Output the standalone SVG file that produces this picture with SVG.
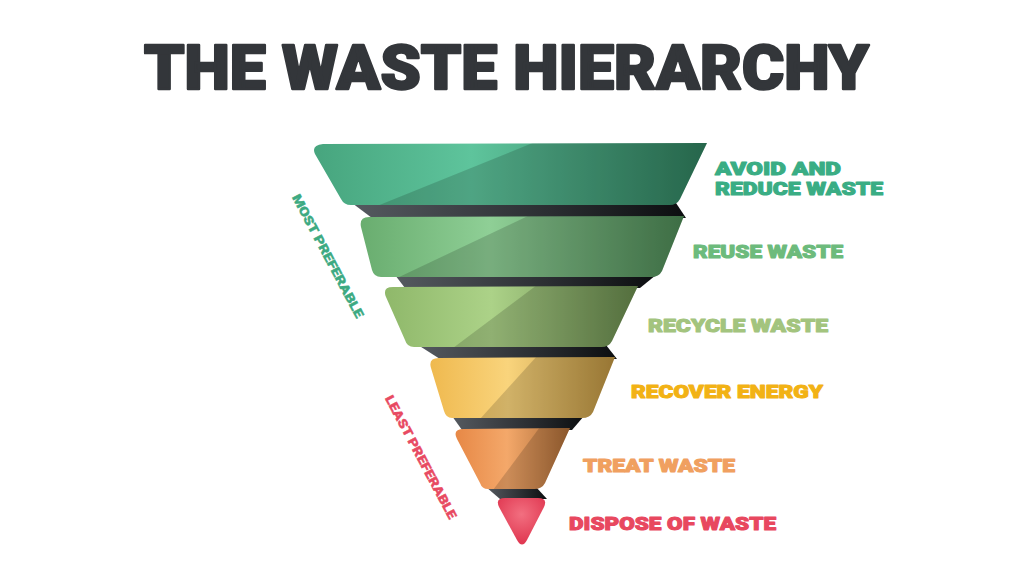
<svg xmlns="http://www.w3.org/2000/svg" width="1024" height="576" viewBox="0 0 1024 576">
<style>
.title{font-family:Roboto,"Liberation Sans",sans-serif;font-weight:900;font-size:62px;fill:#33363a;stroke:#33363a;stroke-width:2.4;stroke-linejoin:round}
.lab{font-family:Roboto,"Liberation Sans",sans-serif;font-weight:900;font-size:18px;stroke-width:1;stroke-linejoin:round}
.side{font-family:Roboto,"Liberation Sans",sans-serif;font-weight:900;font-size:12.5px;stroke-width:0.4}
.band{fill:url(#gBand)}
.shade{fill:#000;opacity:0.16}
</style>
<defs>
<linearGradient id="gBand" x1="0" y1="0" x2="1" y2="0">
<stop offset="0" stop-color="#555a60"/><stop offset="0.6" stop-color="#2a2d31"/><stop offset="1" stop-color="#0c0e10"/>
</linearGradient>
<linearGradient id="g1" x1="0" y1="0" x2="1" y2="0">
<stop offset="0" stop-color="#47a57e"/><stop offset="0.4" stop-color="#5ec49c"/><stop offset="1" stop-color="#2e7a5a"/>
</linearGradient>
<linearGradient id="g2" x1="0" y1="0" x2="1" y2="0">
<stop offset="0" stop-color="#69ad6f"/><stop offset="0.4" stop-color="#8fcf96"/><stop offset="1" stop-color="#4a8352"/>
</linearGradient>
<linearGradient id="g3" x1="0" y1="0" x2="1" y2="0">
<stop offset="0" stop-color="#8fb86a"/><stop offset="0.42" stop-color="#acd288"/><stop offset="1" stop-color="#64844a"/>
</linearGradient>
<linearGradient id="g4" x1="0" y1="0" x2="1" y2="0">
<stop offset="0" stop-color="#efb94f"/><stop offset="0.42" stop-color="#f9d47c"/><stop offset="1" stop-color="#b58d3e"/>
</linearGradient>
<linearGradient id="g5" x1="0" y1="0" x2="1" y2="0">
<stop offset="0" stop-color="#e78846"/><stop offset="0.45" stop-color="#f4a86a"/><stop offset="1" stop-color="#a66834"/>
</linearGradient>
<radialGradient id="g6" cx="0.5" cy="0.35" r="0.6">
<stop offset="0" stop-color="#f26f80"/><stop offset="1" stop-color="#e13a53"/>
</radialGradient>
<path id="p1" d="M323,144 L707,143 L680,199 Q677,205 669,205 L351,205 Q344,205 341,199 L315,154 Q311,145 323,144 Z"/>
<path id="p2" d="M369,217 L684,216 L662,271 Q659,277 651,277 L381,277 Q374,277 372,270 L361,227 Q359,217 369,217 Z"/>
<path id="p3" d="M393,287 L638,286 L612,341 Q609,347 601,347 L414,347 Q407,347 405,340 L386,297 Q382,287 393,287 Z"/>
<path id="p4" d="M439,358 L615,357 L593,412 Q590,418 582,418 L452,418 Q446,418 444,411 L431,368 Q428,358 439,358 Z"/>
<path id="p5" d="M464,429 L570,428 L545,483 Q542,489 534,489 L488,489 Q482,489 480,483 L457,439 Q452,429 464,429 Z"/>
<path id="p6" d="M505,498 L538,498 Q548,498 544,507 L527,540 Q522,549 517,540 L499,507 Q495,498 505,498 Z"/>
<clipPath id="c1"><use href="#p1"/></clipPath>
<clipPath id="c2"><use href="#p2"/></clipPath>
<clipPath id="c3"><use href="#p3"/></clipPath>
<clipPath id="c4"><use href="#p4"/></clipPath>
<clipPath id="c5"><use href="#p5"/></clipPath>
</defs>
<rect width="1024" height="576" fill="#ffffff"/>
<text class="title" x="144" y="89" textLength="725" lengthAdjust="spacingAndGlyphs">THE WASTE HIERARCHY</text>
<g id="connectors">
<polygon class="band" points="352,203 676,203 686,218 372,218"/>
<polygon class="band" points="395,275 656,275 640,288 405,288"/>
<polygon class="band" points="418,345 606,345 617,359 440,359"/>
<polygon class="band" points="452,416 584,416 572,430 462,430"/>
<polygon class="band" points="486,487 536,487 547,499 500,499"/>
</g>
<g id="layer1">
<use href="#p1" fill="url(#g1)"/>
<polygon class="shade" clip-path="url(#c1)" points="377,206 535,142 720,142 720,206"/>
</g>
<g id="layer2">
<use href="#p2" fill="url(#g2)"/>
<polygon class="shade" clip-path="url(#c2)" points="397,278 530,215 700,215 700,278"/>
</g>
<g id="layer3">
<use href="#p3" fill="url(#g3)"/>
<polygon class="shade" clip-path="url(#c3)" points="453,348 537,285 650,285 650,348"/>
</g>
<g id="layer4">
<use href="#p4" fill="url(#g4)"/>
<polygon class="shade" clip-path="url(#c4)" points="480,419 537,356 630,356 630,419"/>
</g>
<g id="layer5">
<use href="#p5" fill="url(#g5)"/>
<polygon class="shade" clip-path="url(#c5)" points="493,490 540,427 580,427 580,490"/>
</g>
<g id="layer6">
<use href="#p6" fill="url(#g6)"/>
</g>
<g id="labels">
<text class="lab" x="715" y="174.5" fill="#3aad84" stroke="#3aad84" textLength="126" lengthAdjust="spacingAndGlyphs">AVOID AND</text>
<text class="lab" x="715" y="195" fill="#3aad84" stroke="#3aad84" textLength="168" lengthAdjust="spacingAndGlyphs">REDUCE WASTE</text>
<text class="lab" x="693" y="258" fill="#6dbb7c" stroke="#6dbb7c" textLength="150" lengthAdjust="spacingAndGlyphs">REUSE WASTE</text>
<text class="lab" x="648" y="332" fill="#a3c47e" stroke="#a3c47e" textLength="180" lengthAdjust="spacingAndGlyphs">RECYCLE WASTE</text>
<text class="lab" x="631" y="398" fill="#f2b215" stroke="#f2b215" textLength="192" lengthAdjust="spacingAndGlyphs">RECOVER ENERGY</text>
<text class="lab" x="583" y="472" fill="#f0a060" stroke="#f0a060" textLength="152" lengthAdjust="spacingAndGlyphs">TREAT WASTE</text>
<text class="lab" x="569" y="530" fill="#e8485f" stroke="#e8485f" textLength="207" lengthAdjust="spacingAndGlyphs">DISPOSE OF WASTE</text>
</g>
<g id="side-labels">
<text class="side" transform="translate(328,256) rotate(62)" x="0" y="4.5" text-anchor="middle" fill="#3daa82" stroke="#3daa82" textLength="138" lengthAdjust="spacingAndGlyphs">MOST PREFERABLE</text>
<text class="side" transform="translate(421,457) rotate(62)" x="0" y="4.5" text-anchor="middle" fill="#e84a62" stroke="#e84a62" textLength="138" lengthAdjust="spacingAndGlyphs">LEAST PREFERABLE</text>
</g>
</svg>
